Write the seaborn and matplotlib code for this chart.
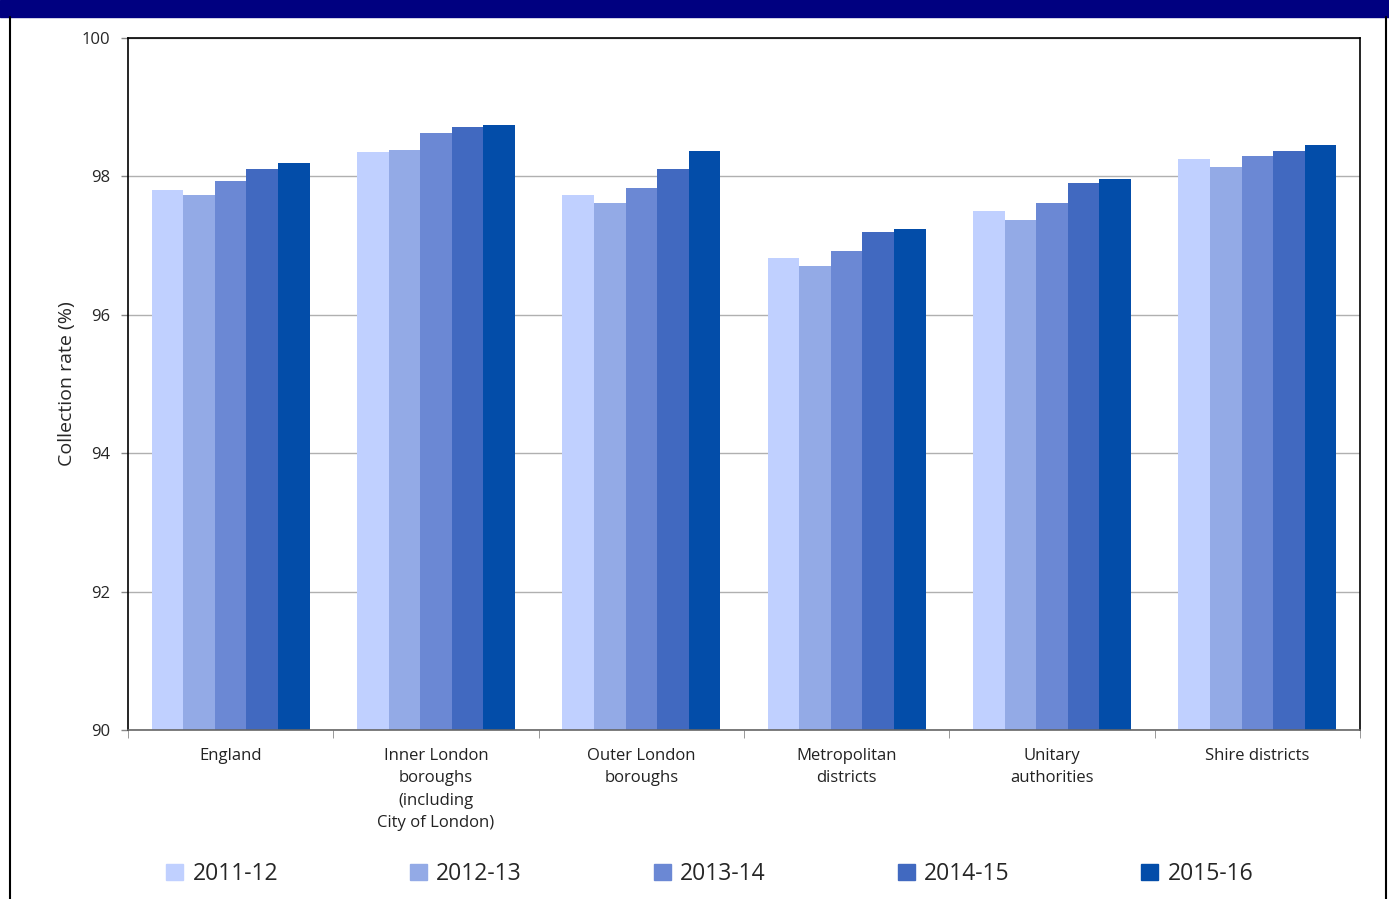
import matplotlib
matplotlib.use("Agg")
import matplotlib.pyplot as plt
import matplotlib.patches as mpatches
import seaborn as sns
import pandas as pd
import numpy as np

# data
categories = ["England", "Inner London\nboroughs\n(including\nCity of London)", "Outer London\nboroughs",
              "Metropolitan\ndistricts", "Unitary\nauthorities", "Shire districts"]
years = ["2011-12", "2012-13", "2013-14", "2014-15", "2015-16"]
rate_2011_12 = [97.81, 98.35, 97.73, 96.82, 97.50, 98.25]
rate_2012_13 = [97.73, 98.38, 97.61, 96.70, 97.37, 98.14]
rate_2013_14 = [97.94, 98.62, 97.83, 96.92, 97.61, 98.29]
rate_2014_15 = [98.11, 98.72, 98.11, 97.20, 97.90, 98.37]
rate_2015_16 = [98.19, 98.75, 98.36, 97.24, 97.96, 98.46]
colors = ["#C0D0FF", "#93AAE6", "#6B88D4", "#4169C0", "#034DA9"]

series = [rate_2011_12, rate_2012_13, rate_2013_14, rate_2014_15, rate_2015_16]
rows = []
for yr, vals in zip(years, series):
    for cat, v in zip(categories, vals):
        rows.append({"Area": cat, "Year": yr, "Rate": v})
df = pd.DataFrame(rows)

sns.set_style("white")
plt.rcParams["font.family"] = ["Open Sans", "DejaVu Sans"]

fig = plt.figure(figsize=(13.89, 8.99), dpi=100)
ax = fig.add_axes([128 / 1389, 1 - 730 / 899, (1360 - 128) / 1389, (730 - 38) / 899])

sns.barplot(data=df, x="Area", y="Rate", hue="Year", palette=colors, width=0.77,
            ax=ax, legend=False, saturation=1, edgecolor="none")

ax.set_ylim(90, 100)
ax.set_xlim(-0.5, len(categories) - 0.5)
ax.set_yticks(np.arange(90, 101, 2))
ax.tick_params(axis="y", labelsize=12, length=5, width=1, color="#888888", left=True, pad=8)
ax.yaxis.grid(True, color="#b0b0b0", linewidth=1)
ax.set_axisbelow(True)

ax.set_xticks(range(len(categories)))
ax.set_xticklabels(categories, fontsize=12, linespacing=1.52, color="#222222")
ax.tick_params(axis="x", length=0, pad=13)
ax.set_xticks(np.arange(-0.5, len(categories), 1), minor=True)
ax.tick_params(axis="x", which="minor", length=6, color="#888888", bottom=True)

ax.set_xlabel("")
ax.set_ylabel("Collection rate (%)", fontsize=14, labelpad=4)
for s in ax.spines.values():
    s.set_color("black")
    s.set_linewidth(1.2)
ax.spines["bottom"].set_color("#666666")

# frame decorations: navy header bar and border lines
fig.patches.append(mpatches.Rectangle((0, 1 - 17 / 899), 1, 17 / 899, transform=fig.transFigure,
                                      color="#000080", zorder=0))
fig.add_artist(plt.Line2D([10 / 1389, 10 / 1389], [0, 1 - 17 / 899], color="black", lw=1.5,
                          transform=fig.transFigure))
fig.add_artist(plt.Line2D([1386 / 1389, 1386 / 1389], [0, 1 - 17 / 899], color="black", lw=1.5,
                          transform=fig.transFigure))

handles = [mpatches.Patch(color=c, label=y) for c, y in zip(colors, years)]
fig.legend(handles=handles, loc="center", bbox_to_anchor=(0.511, 1 - 874 / 899), ncol=5,
           frameon=False, fontsize=16.5, handlelength=0.75, handleheight=0.75,
           handletextpad=0.4, columnspacing=5.75)

fig.savefig("out.png", dpi=100)
